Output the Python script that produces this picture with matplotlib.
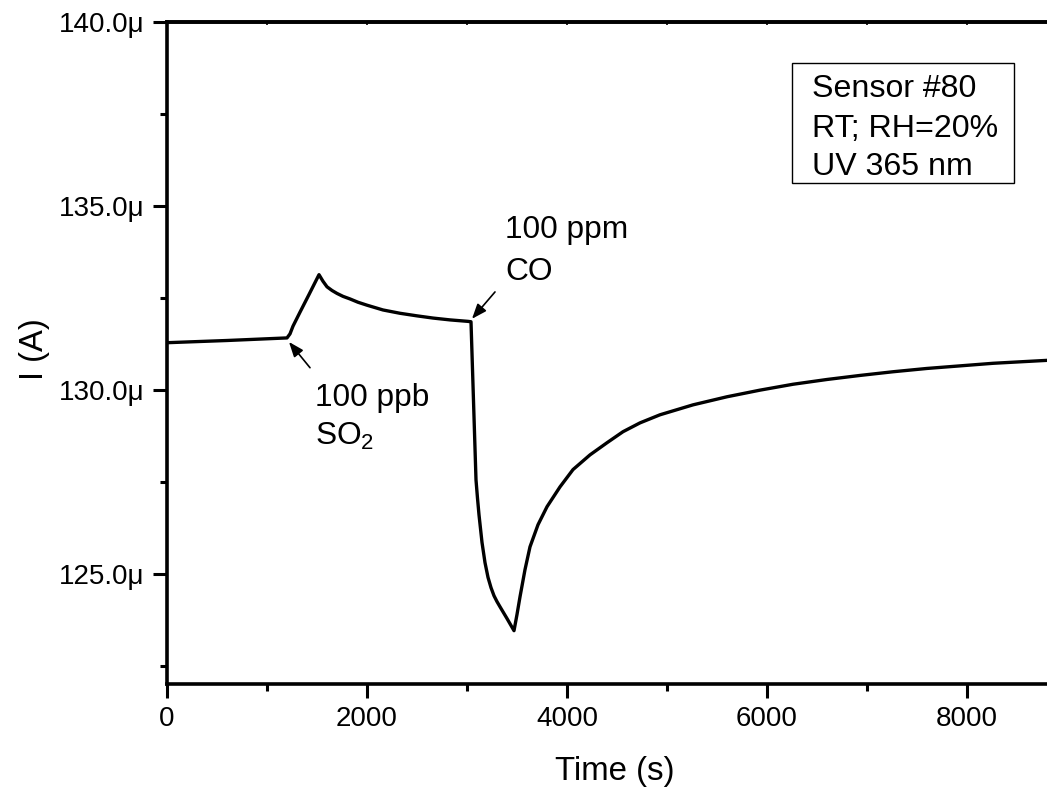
import matplotlib
matplotlib.use("Agg")
import matplotlib.pyplot as plt
from matplotlib.ticker import MultipleLocator, FuncFormatter
from matplotlib.patches import Rectangle

plt.rcParams["font.family"] = ["Liberation Sans", "DejaVu Sans"]
plt.rcParams["mathtext.fontset"] = "custom"
plt.rcParams["mathtext.rm"] = "Liberation Sans"
plt.rcParams["mathtext.it"] = "Liberation Sans"

# Sensor current trace: time (s) and current (µA)
time_s = [0, 600, 1200, 1230, 1260, 1330, 1420, 1520, 1560, 1600, 1650, 1700,
          1760, 1830, 1910, 2000, 2160, 2330, 2500, 2660, 2830, 3010, 3040,
          3065, 3090, 3105, 3120, 3150, 3180, 3210, 3240, 3270, 3300, 3330,
          3400, 3470, 3500, 3530, 3580, 3630, 3710, 3800, 3930, 4060, 4230,
          4400, 4560, 4730, 4930, 5260, 5600, 5930, 6260, 6600, 6930, 7260,
          7600, 7930, 8260, 8800]
current_uA = [131.28, 131.34, 131.41, 131.52, 131.73, 132.11, 132.59, 133.13,
              132.95, 132.80, 132.70, 132.62, 132.54, 132.47, 132.38, 132.30,
              132.17, 132.08, 132.01, 131.95, 131.90, 131.86, 131.85, 129.70,
              127.55, 127.05, 126.60, 125.85, 125.30, 124.90, 124.62, 124.40,
              124.24, 124.10, 123.78, 123.45, 123.89, 124.37, 125.11, 125.73,
              126.33, 126.82, 127.36, 127.83, 128.23, 128.56, 128.86, 129.10,
              129.32, 129.59, 129.81, 129.99, 130.15, 130.28, 130.39, 130.49,
              130.58, 130.65, 130.72, 130.80]

# Gas exposure events (time, current) and their labels
so2_event = (1220, 131.30)
co_event = (3050, 131.93)
info_lines = ["Sensor #80", "RT; RH=20%", "UV 365 nm"]

W, H = 1047, 788
fig = plt.figure(figsize=(W / 100, H / 100), dpi=100)
ax = fig.add_axes([167 / W, 1 - 684 / H, 880 / W, 662 / H])

ax.plot(time_s, current_uA, color="black", lw=2.4,
        solid_joinstyle="round", solid_capstyle="round")

ax.set_xlim(0, 8800)
ax.set_ylim(122.0, 140.0)

ax.xaxis.set_major_locator(MultipleLocator(2000))
ax.xaxis.set_minor_locator(MultipleLocator(1000))
ax.yaxis.set_major_locator(MultipleLocator(5))
ax.yaxis.set_minor_locator(MultipleLocator(2.5))
ax.yaxis.set_major_formatter(FuncFormatter(lambda v, p: f"{v:.1f}\u03bc"))

ax.tick_params(which="major", direction="out", length=10, width=2.2,
               labelsize=20, pad=6)
ax.tick_params(which="minor", direction="out", length=5, width=2.2)
ax.spines["right"].set_visible(False)
for s in ("left", "bottom", "top"):
    ax.spines[s].set_linewidth(2.6)

top = ax.secondary_xaxis("top")
top.xaxis.set_major_locator(MultipleLocator(2000))
top.xaxis.set_minor_locator(MultipleLocator(1000))
top.tick_params(which="both", direction="in", length=2, width=1.2,
                labeltop=False)
top.spines["top"].set_linewidth(2.6)

fig.text(615 / W, 1 - 780 / H, "Time (s)", fontsize=23.8,
         ha="center", va="baseline")
fig.text(35 / W, 1 - 349 / H, "I (A)", fontsize=23.6, rotation=90,
         ha="center", va="center")

arrow_kw = dict(arrowstyle="-|>,head_length=0.9,head_width=0.35",
                color="black", lw=1.2, shrinkA=0, shrinkB=0)
ax.annotate("", xy=so2_event, xytext=(1430, 130.60), arrowprops=arrow_kw)
ax.annotate("", xy=co_event, xytext=(3280, 132.66), arrowprops=arrow_kw)

ax.text(1480, 129.57, "100 ppb", fontsize=22.8, va="baseline", ha="left")
ax.text(1480, 128.51, r"SO$_\mathregular{2}$", fontsize=22.8,
        va="baseline", ha="left")
ax.text(3380, 134.13, "100 ppm", fontsize=22.8, va="baseline", ha="left")
ax.text(3380, 132.99, "CO", fontsize=22.8, va="baseline", ha="left")

# Info box with measurement conditions
box = Rectangle((0.710, 0.757), 0.9625 - 0.710, 0.938 - 0.757,
                transform=ax.transAxes, fill=False, edgecolor="black", lw=1.0)
ax.add_patch(box)
for line, yb in zip(info_lines, [0.887, 0.826, 0.769]):
    ax.text(0.733, yb, line, transform=ax.transAxes, fontsize=23.1,
            va="baseline", ha="left")

fig.savefig("out.png", dpi=100)
